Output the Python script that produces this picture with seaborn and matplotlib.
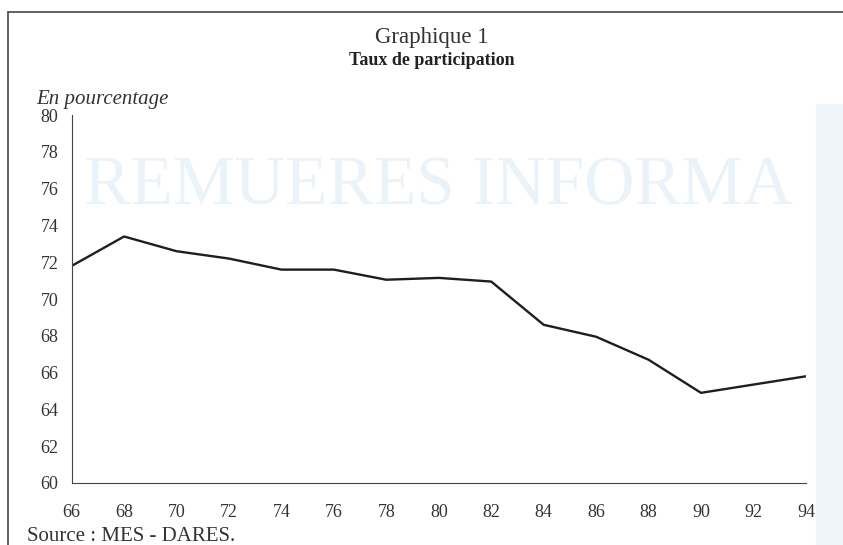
import matplotlib
matplotlib.use("Agg")
import matplotlib.pyplot as plt
import seaborn as sns
import pandas as pd
from matplotlib.patches import Rectangle
from matplotlib.lines import Line2D

# --- data ---
years = [66, 68, 70, 72, 74, 76, 78, 80, 82, 84, 86, 88, 90, 92, 94]
taux = [71.8, 73.4, 72.6, 72.2, 71.6, 71.6, 71.05, 71.15, 70.95, 68.6, 67.95, 66.7, 64.9, 65.35, 65.8]
x_ticks = list(range(66, 95, 2))
y_ticks = list(range(60, 81, 2))

df = pd.DataFrame({'annee': years, 'taux': taux})

sns.set_style('white')
plt.rcParams['font.family'] = ['Liberation Serif', 'DejaVu Serif']

fig = plt.figure(figsize=(8.43, 5.45), dpi=100)

# faint bleed-through of the scanned page (kept behind everything)
fig.patches.append(Rectangle((0.968, 0.0), 0.032, 0.81, transform=fig.transFigure,
                             color='#eef5fb', zorder=-2))
fig.text(0.52, 0.655, 'REMUERES INFORMA', ha='center', va='center',
         fontsize=50, color='#ebf3fa', zorder=-1)

ax = fig.add_axes([0.085, 0.1138, 0.871, 0.675])
ax.set_zorder(2)

sns.lineplot(data=df, x='annee', y='taux', ax=ax, color='#1e1e1e', linewidth=1.7)

ax.set_xlim(66, 94)
ax.set_ylim(60, 80)
ax.set_xticks(x_ticks)
ax.set_yticks(y_ticks)
ax.set_xlabel('')
ax.set_ylabel('')
ax.patch.set_alpha(0)

for side in ['top', 'right']:
    ax.spines[side].set_visible(False)
for side in ['left', 'bottom']:
    ax.spines[side].set_color('#444444')
    ax.spines[side].set_linewidth(0.8)

ax.tick_params(axis='y', direction='inout', length=5, width=0.8, color='#444444',
               labelsize=13, labelcolor='#333333', pad=7)
ax.tick_params(axis='x', direction='inout', length=6, width=0.8, color='#444444',
               labelsize=13, labelcolor='#333333', pad=12)

# titles and notes
fig.text(0.512, 0.932, 'Graphique 1', ha='center', va='center', fontsize=16.5, color='#333333')
fig.text(0.512, 0.889, 'Taux de participation', ha='center', va='center', fontsize=13,
         fontweight='bold', color='#222222')
fig.text(0.043, 0.817, 'En pourcentage', ha='left', va='center', fontsize=15,
         style='italic', color='#333333')
fig.text(0.032, 0.015, 'Source : MES - DARES.', ha='left', va='center', fontsize=15,
         color='#333333')

# page frame (top and left edges)
fig.lines.append(Line2D([0.0095, 1.0], [0.978, 0.978], transform=fig.transFigure,
                        color='#555555', linewidth=1.3))
fig.lines.append(Line2D([0.0095, 0.0095], [0.0, 0.978], transform=fig.transFigure,
                        color='#555555', linewidth=1.3))

fig.savefig('out.png', dpi=100)
